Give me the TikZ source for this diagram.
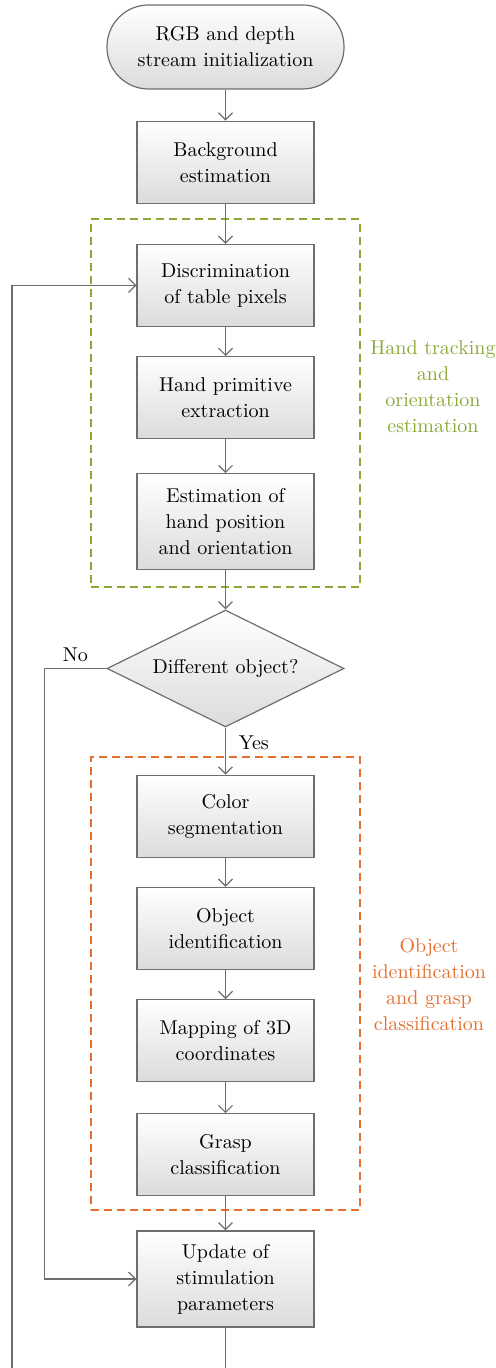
\documentclass[tikz,border=0pt]{standalone}
\usetikzlibrary{positioning, arrows.meta, shapes.geometric, fit}
\definecolor{grpgreen}{RGB}{138,168,55}
\definecolor{grporange}{RGB}{228,112,48}
\definecolor{edgegray}{RGB}{110,110,110}

\begin{document}
\begin{tikzpicture}[
  font=\fontsize{10pt}{13pt}\selectfont,
  stepbox/.style={rectangle, draw=edgegray, line width=0.6pt, top color=white, bottom color=black!14,
                  align=center, minimum width=88.5pt, minimum height=41pt, inner sep=2pt},
  tallbox/.style={stepbox, minimum height=48pt},
  term/.style={stepbox, rounded corners=20.75pt, minimum width=118.5pt, minimum height=42pt},
  decide/.style={diamond, aspect=2, draw=edgegray, line width=0.6pt, top color=white, bottom color=black!14,
                 align=center, minimum width=118.5pt, minimum height=58.5pt, inner sep=0pt},
  grp/.style={rectangle, dash pattern=on 4pt off 2.5pt, line width=1pt, inner xsep=22.5pt, inner ysep=0pt},
  lab/.style={align=center},
  flow/.style={-{Straight Barb[length=3.5pt,width=7pt]}, draw=edgegray, line width=0.6pt},
]
\clip (0,0) rectangle (248pt,-684pt);

% main column
\node[term] (start) at (112.75pt,-23.5pt) {RGB and depth\\stream initialization};
\node[stepbox, below=15.5pt of start] (bg) {Background\\estimation};
\node[stepbox, below=20pt of bg] (disc) {Discrimination\\of table pixels};
\node[stepbox, below=14.5pt of disc] (hand) {Hand primitive\\extraction};
\node[tallbox, below=17pt of hand] (est) {Estimation of\\hand position\\and orientation};
\node[decide, below=19.5pt of est] (diam) {Different object?};
\node[stepbox, below=23.5pt of diam] (color) {Color\\segmentation};
\node[stepbox, below=14.5pt of color] (obj) {Object\\identification};
\node[stepbox, below=14.5pt of obj] (map) {Mapping of 3D\\coordinates};
\node[stepbox, below=15.5pt of map] (grasp) {Grasp\\classification};
\node[tallbox, below=17pt of grasp] (update) {Update of\\stimulation\\parameters};

% dashed groups
\coordinate (handtop) at ([yshift=12.5pt]disc.north);
\coordinate (handbot) at ([yshift=-8.5pt]est.south);
\node[grp, draw=grpgreen, fit=(handtop)(handbot)(disc.west)(disc.east)] (handgrp) {};
\node[lab, text=grpgreen] (handlab) at (216.5pt,-193.5pt) {Hand tracking\\and\\orientation\\estimation};
\coordinate (objtop) at ([yshift=9pt]color.north);
\coordinate (objbot) at ([yshift=-7pt]grasp.south);
\node[grp, draw=grporange, fit=(objtop)(objbot)(color.west)(color.east)] (objgrp) {};
\node[lab, text=grporange] (objlab) at (214.5pt,-492.5pt) {Object\\identification\\and grasp\\classification};

\draw[flow] (start) -- (bg);
\draw[flow] (bg) -- (disc);
\draw[flow] (disc) -- (hand);
\draw[flow] (hand) -- (est);
\draw[flow] (est) -- (diam);
\draw[flow] (diam) -- node[lab, right, xshift=3pt, pos=0.33]{Yes} (color);
\draw[flow] (color) -- (obj);
\draw[flow] (obj) -- (map);
\draw[flow] (map) -- (grasp);
\draw[flow] (grasp) -- (update);

% no branch
\draw[flow] (diam.west) -- node[lab, above]{No} ++(-31pt,0) |- (update.west);

% loop back
\coordinate (loopcorner) at (6pt,-700pt);
\draw[flow] (update.south) |- (loopcorner) |- (disc.west);
\end{tikzpicture}
\end{document}
